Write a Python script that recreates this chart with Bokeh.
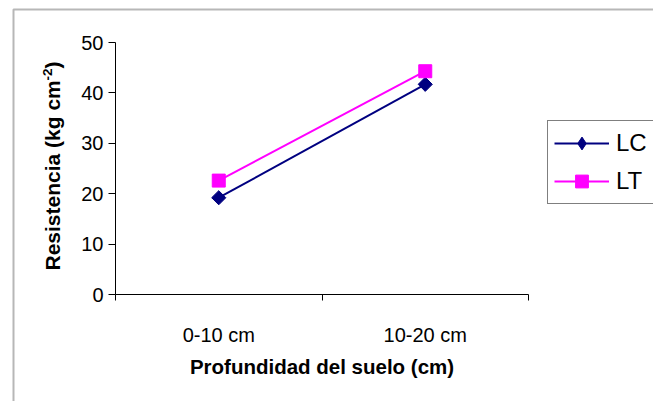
from bokeh.plotting import figure
from bokeh.models import (Range1d, FixedTicker, SingleIntervalTicker, Legend,
                          LegendItem, Label, BoxAnnotation)
from bokeh.embed import file_html
from bokeh.resources import INLINE
import math

categories = ["0-10 cm", "10-20 cm"]
lc_values = [19.2, 41.7]
lt_values = [22.6, 44.3]
y_max = 50
y_ticks_interval = 10

xpos = [i + 0.5 for i in range(len(categories))]
FONT = "Liberation Sans"

W, H = 653, 401
# pixel geometry of the plotting area (page pixels)
AX_L, AX_R, AX_T, AX_B = 115, 528, 42, 294
sx = (AX_R - AX_L) / len(categories)
sy = (AX_B - AX_T) / y_max


def px_x(px):
    return (px - AX_L) / sx


def py_y(py):
    return (AX_B - py) / sy


p = figure(width=W, height=H, output_backend="svg", toolbar_location=None,
           x_range=Range1d(px_x(0), px_x(W)), y_range=Range1d(py_y(H), py_y(0)),
           min_border=0)
p.outline_line_color = None
p.xgrid.visible = False
p.ygrid.visible = False
p.background_fill_color = "white"
p.border_fill_color = "white"

r1 = p.line(xpos, lc_values, line_color="#000080", line_width=2)
s1 = p.scatter(xpos, lc_values, marker="square", angle=math.pi / 4, size=10,
               fill_color="#000080", line_color="#000080")
s1_leg = p.scatter(xpos, lc_values, marker="diamond", size=1,
                   fill_color="#000080", line_color="#000080")
r2 = p.line(xpos, lt_values, line_color="#FF00FF", line_width=2)
s2 = p.scatter(xpos, lt_values, marker="square", size=13,
               fill_color="#FF00FF", line_color="#FF00FF")

# x axis
xa = p.xaxis[0]
xa.fixed_location = 0
xa.bounds = (0, len(categories))
xa.ticker = FixedTicker(ticks=xpos, minor_ticks=list(range(len(categories) + 1)))
xa.major_label_overrides = {x: c for x, c in zip(xpos, categories)}
xa.major_tick_line_color = None
xa.minor_tick_in = 0
xa.minor_tick_out = 6
xa.minor_tick_line_color = "black"
xa.axis_line_color = "black"
xa.major_label_text_font = FONT
xa.major_label_text_font_size = "20px"
xa.major_label_text_color = "black"
xa.major_label_standoff = 23

# y axis
ya = p.yaxis[0]
ya.fixed_location = 0
ya.bounds = (0, y_max)
ya.ticker = SingleIntervalTicker(interval=y_ticks_interval)
ya.minor_tick_line_color = None
ya.major_tick_in = 0
ya.major_tick_out = 7
ya.major_tick_line_color = "black"
ya.axis_line_color = "black"
ya.major_label_text_font = FONT
ya.major_label_text_font_size = "20px"
ya.major_label_text_color = "black"
ya.major_label_standoff = 5

# axis titles
p.add_layout(Label(x=px_x((AX_L + AX_R) / 2), y=py_y(366),
                   text="Profundidad del suelo (cm)", text_font=FONT,
                   text_font_size="20.5px", text_font_style="bold",
                   text_color="black", text_align="center",
                   text_baseline="alphabetic"))
common = dict(angle=math.pi / 2, text_font=FONT, text_font_style="bold",
              text_color="black", text_align="left", text_baseline="alphabetic")
p.add_layout(Label(x=px_x(52), y=py_y(270), text="Resistencia (kg cm",
                   text_font_size="21px", **common))
p.add_layout(Label(x=px_x(47), y=py_y(80), text="-2",
                   text_font_size="13.5px", **common))
p.add_layout(Label(x=px_x(52), y=py_y(68), text=")",
                   text_font_size="21px", **common))

# outer chart border
p.add_layout(BoxAnnotation(left=px_x(13), top=py_y(9), right=px_x(W + 50),
                           bottom=py_y(H + 50), fill_alpha=0, line_color="#111",
                           line_width=2))

legend = Legend(items=[LegendItem(label="LC", renderers=[r1, s1_leg]),
                       LegendItem(label="LT", renderers=[r2, s2])],
                location=(547, H - 204), orientation="vertical",
                padding=6, spacing=6, label_height=32, glyph_height=32,
                glyph_width=55, label_standoff=7,
                label_text_font=FONT, label_text_font_size="24px",
                label_text_color="black",
                border_line_color="black", border_line_width=1,
                background_fill_color="white", background_fill_alpha=1)
p.add_layout(legend, "center")

open("out.html", "w").write(file_html(p, INLINE))
